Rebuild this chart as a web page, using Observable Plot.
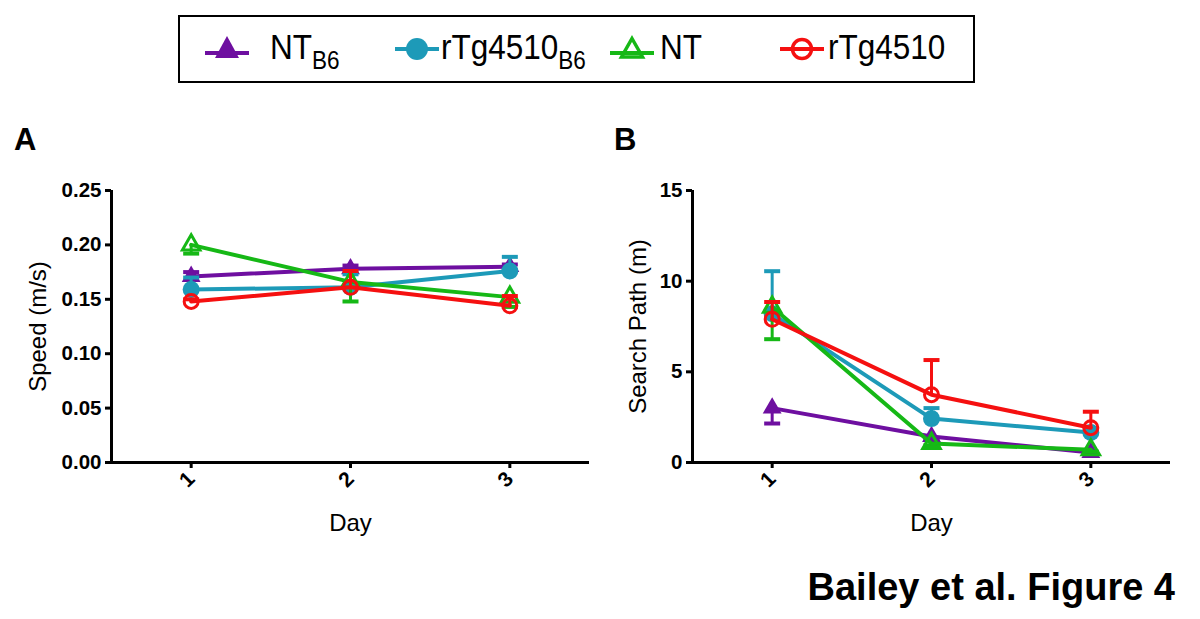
<!DOCTYPE html>
<html>
<head>
<meta charset="utf-8">
<script src="https://cdn.jsdelivr.net/npm/d3@7"></script>
<script src="https://cdn.jsdelivr.net/npm/@observablehq/plot@0.6"></script>
<style>
  html, body { margin: 0; padding: 0; background: #fff; }
  #wrap { position: relative; width: 1200px; height: 619px; background: #fff; overflow: hidden;
          font-family: "Liberation Sans", Arial, Helvetica, sans-serif; color: #000; }
  .abs { position: absolute; line-height: 1; white-space: nowrap; }
  .panel-letter { font-weight: bold; font-size: 31px; }
  #title { font-weight: bold; font-size: 38px; right: 25px; top: 568px; }
  #legend { position: absolute; left: 178px; top: 15px; width: 793px; height: 64px; border: 2px solid #000; }
  .lg-item { position: absolute; top: 0; height: 64px; display: flex; align-items: center; }
  .lg-text { font-size: 35px; display: inline-block; transform: scaleX(0.9); transform-origin: left center; margin-top: -4px; }
  .lg-text sub { font-size: 25px; vertical-align: -10px; line-height: 0; }
</style>
</head>
<body>
<div id="wrap">
  <div id="legend"></div>
  <div class="abs panel-letter" style="left:14px; top:124px;">A</div>
  <div class="abs panel-letter" style="left:614px; top:124px;">B</div>
  <div id="chartA" class="abs" style="left:0px; top:160px;"></div>
  <div id="chartB" class="abs" style="left:581px; top:160px;"></div>
  <div id="title" class="abs">Bailey et al. Figure 4</div>
</div>
<script>
// ---------- data ----------
const days = [1, 2, 3];
const seriesKeys = ["NTB6", "rTg4510B6", "NT", "rTg4510"];
const seriesLabels = ["NT", "rTg4510", "NT", "rTg4510"];
const seriesSubs = ["B6", "B6", "", ""];
const seriesColors = ["#6e0fa0", "#1d9ab8", "#16b816", "#f51010"];
const seriesSymbols = ["triangle", "circle", "triangle", "circle"];
const seriesFilled = [true, true, false, false];

// Panel A: speed (m/s), mean and error-bar end value per day
const speedNTB6 = [0.171, 0.178, 0.180];
const speedNTB6Cap = [0.175, 0.181, 0.182];
const speedRTgB6 = [0.159, 0.161, 0.176];
const speedRTgB6Cap = [0.170, 0.173, 0.189];
const speedNT = [0.200, 0.166, 0.152];
const speedNTCap = [0.192, 0.148, 0.143];
const speedRTg = [0.148, 0.161, 0.144];
const speedRTgCap = [0.150, 0.176, 0.153];

// Panel B: search path (m)
const pathNTB6 = [3.0, 1.43, 0.55];
const pathNTB6Cap = [2.15, 1.25, 0.45];
const pathRTgB6 = [8.2, 2.42, 1.65];
const pathRTgB6Cap = [10.55, 3.0, 1.9];
const pathNT = [8.57, 1.05, 0.7];
const pathNTCap = [6.8, 0.95, 0.6];
const pathRTg = [7.9, 3.74, 1.92];
const pathRTgCap = [8.85, 5.65, 2.8];

const speedTicks = [0, 0.05, 0.10, 0.15, 0.20, 0.25];
const pathTicks = [0, 5, 10, 15];

// ---------- helpers ----------
function rows(means, caps) {
  const out = [];
  seriesKeys.forEach((s, i) => {
    days.forEach((d, j) => out.push({series: s, day: d, value: means[i][j], cap: caps[i][j]}));
  });
  return out;
}
const capSymbol = {
  draw(context, size) {
    const w = Math.sqrt(size / Math.PI);
    context.moveTo(-w, 0);
    context.lineTo(w, 0);
  }
};

function panel(data, yDomain, yTicks, yFormat, yLabel, yLabelDx) {
  const marks = [];
  seriesKeys.forEach((s, i) => {
    const d = data.filter(r => r.series === s);
    const c = seriesColors[i];
    marks.push(Plot.ruleX(d, {x: "day", y1: "value", y2: "cap", stroke: c, strokeWidth: 3}));
    marks.push(Plot.dot(d, {x: "day", y: "cap", symbol: capSymbol, r: 8, stroke: c, strokeWidth: 4, fill: "none"}));
    marks.push(Plot.line(d, {x: "day", y: "value", stroke: c, strokeWidth: 4}));
    if (seriesFilled[i]) {
      marks.push(Plot.dot(d, {x: "day", y: "value", symbol: seriesSymbols[i], r: seriesSymbols[i] === "circle" ? 8.5 : 7, fill: c, stroke: "none"}));
    } else {
      marks.push(Plot.dot(d, {x: "day", y: "value", symbol: seriesSymbols[i], r: seriesSymbols[i] === "circle" ? 7 : 6.5, fill: "none", stroke: c, strokeWidth: 3}));
    }
  });
  return Plot.plot({
    width: 600,
    height: 400,
    marginLeft: 111,
    marginRight: 11,
    marginTop: 30,
    marginBottom: 98,
    style: {fontFamily: "'Liberation Sans', Arial, sans-serif", color: "#000", background: "transparent", overflow: "visible"},
    x: {type: "linear", domain: [0.5, 3.5]},
    y: {domain: yDomain},
    marks: [
      Plot.axisY({ticks: yTicks, tickFormat: yFormat, tickSize: 6, tickPadding: 4, fontSize: 20.5, fontWeight: "bold", strokeWidth: 3, label: null}),
      Plot.axisX({ticks: days, tickFormat: d3.format("d"), tickSize: 6, tickPadding: 7, tickRotate: -45, fontSize: 21, fontWeight: "bold", strokeWidth: 3, label: null}),
      Plot.ruleX([0.5], {strokeWidth: 3, stroke: "#000"}),
      Plot.ruleY([yDomain[0]], {strokeWidth: 3, stroke: "#000"}),
      Plot.text([yLabel], {frameAnchor: "left", textAnchor: "middle", lineAnchor: "middle", rotate: -90, dx: yLabelDx, fontSize: 24, fill: "#000"}),
      Plot.text(["Day"], {frameAnchor: "bottom", textAnchor: "middle", lineAnchor: "middle", dy: 61, fontSize: 24, fill: "#000"}),
      ...marks
    ]
  });
}

const dataA = rows([speedNTB6, speedRTgB6, speedNT, speedRTg], [speedNTB6Cap, speedRTgB6Cap, speedNTCap, speedRTgCap]);
const dataB = rows([pathNTB6, pathRTgB6, pathNT, pathRTg], [pathNTB6Cap, pathRTgB6Cap, pathNTCap, pathRTgCap]);

document.getElementById("chartA").appendChild(
  panel(dataA, [0, 0.25], speedTicks, d3.format(".2f"), "Speed (m/s)", -73));
document.getElementById("chartB").appendChild(
  panel(dataB, [0, 15], pathTicks, d3.format("d"), "Search Path (m)", -54));

// ---------- legend ----------
const legend = document.getElementById("legend");
const markerX = [25, 215, 430, 600];   // offsets inside legend box
const textX = [90, 261, 480, 648];
seriesKeys.forEach((s, i) => {
  const c = seriesColors[i];
  const m = document.createElement("div");
  m.className = "lg-item";
  m.style.left = markerX[i] + "px";
  const sym = seriesSymbols[i] === "circle"
    ? (seriesFilled[i]
        ? `<circle cx="22" cy="20" r="11" fill="${c}"/>`
        : `<circle cx="22" cy="20" r="9.5" fill="none" stroke="${c}" stroke-width="3.5"/>`)
    : (seriesFilled[i]
        ? `<path d="M22,7 L34,29 L10,29 Z" fill="${c}"/>`
        : `<path d="M22,9.5 L32.5,28 L11.5,28 Z" fill="none" stroke="${c}" stroke-width="3.5"/>`);
  const ly = seriesSymbols[i] === "triangle" ? 24 : 20;
  m.innerHTML = `<svg width="44" height="40"><line x1="0" y1="${ly}" x2="44" y2="${ly}" stroke="${c}" stroke-width="4"/>${sym}</svg>`;
  legend.appendChild(m);
  const t = document.createElement("div");
  t.className = "lg-item";
  t.style.left = textX[i] + "px";
  t.innerHTML = `<span class="lg-text">${seriesLabels[i]}${seriesSubs[i] ? `<sub>${seriesSubs[i]}</sub>` : ""}</span>`;
  legend.appendChild(t);
});
</script>
</body>
</html>
